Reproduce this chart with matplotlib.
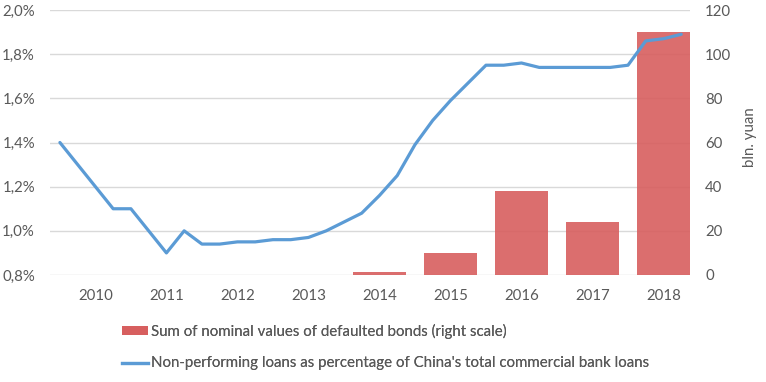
import matplotlib
matplotlib.use("Agg")
import matplotlib.pyplot as plt
from matplotlib.patches import Patch
from matplotlib.lines import Line2D
from matplotlib.ticker import FixedLocator

plt.rcParams['font.family'] = ['Lato', 'DejaVu Sans']

years = ["2010", "2011", "2012", "2013", "2014", "2015", "2016", "2017", "2018"]
defaulted_bonds = [0, 0, 0, 0, 1.2, 10, 38, 24, 110]
npl_ratio = [1.40, 1.30, 1.20, 1.10,
             1.10, 1.00, 0.90, 1.00,
             0.94, 0.94, 0.95, 0.95,
             0.96, 0.96, 0.97, 1.00,
             1.04, 1.08, 1.16, 1.25,
             1.39, 1.50, 1.59, 1.67,
             1.75, 1.75, 1.76, 1.74,
             1.74, 1.74, 1.74, 1.74,
             1.75, 1.86, 1.87, 1.89]
left_ticks = [0.8, 1.0, 1.2, 1.4, 1.6, 1.8, 2.0]
right_ticks = [0, 20, 40, 60, 80, 100, 120]
bar_label = "Sum of nominal values of defaulted bonds (right scale)"
line_label = "Non-performing loans as percentage of China's total commercial bank loans"

TXT = "#595959"
BAR = (215/255, 94/255, 94/255)
LINE = "#5B9BD5"
GRID = "#D9D9D9"
W, H = 766, 382
FS = 10.8

fig = plt.figure(figsize=(W/100, H/100), dpi=100)
ax1 = fig.add_axes([50/W, 1-275/H, (690-50)/W, (275-10)/H])
ax2 = ax1.twinx()

xs = list(range(len(years)))
ax2.bar(xs, defaulted_bonds, width=0.742, color=BAR, alpha=0.9, zorder=2)
ax2.set_ylim(0, 120)
ax2.yaxis.set_major_locator(FixedLocator(right_ticks))
ax2.set_yticklabels([str(t) for t in right_ticks])
for v in right_ticks:
    ax2.axhline(v, color=GRID, lw=1.0, zorder=1)

qx = [-0.5 + 0.25*i for i in range(len(npl_ratio))]
ax1.plot(qx, npl_ratio, color=LINE, lw=2.3, solid_capstyle='round', zorder=3)
ax1.set_ylim(0.8, 2.0)
ax1.yaxis.set_major_locator(FixedLocator(left_ticks))
ax1.set_yticklabels([f"{t:.1f}%".replace('.', ',') for t in left_ticks])

ax1.set_zorder(ax2.get_zorder()+1)
ax1.patch.set_visible(False)

ax1.set_xlim(-0.5 - 9.9/71, 8 + 26.5/71)
ax1.set_xticks(xs)
ax1.set_xticklabels(years)

for a in (ax1, ax2):
    for s in a.spines.values():
        s.set_visible(False)
    a.tick_params(length=0, labelsize=FS, labelcolor=TXT)
ax1.tick_params(axis='y', pad=10.8)
ax2.tick_params(axis='y', pad=10.8)
ax1.tick_params(axis='x', pad=10)

fig.text(750/W, 1-137/H, "bln. yuan", rotation=90, ha='center', va='center',
         color=TXT, fontsize=FS)

fs_px = FS*100/72
h1 = [Patch(facecolor=BAR, alpha=0.9, edgecolor='none')]
h2 = [Line2D([0], [0], color=LINE, lw=2.3)]
for handles, label, y in ((h1, bar_label, 331.5), (h2, line_label, 363.5)):
    leg = fig.legend(handles, [label], loc='center left',
                     bbox_to_anchor=(122/W, 1-y/H), frameon=False,
                     borderpad=0, borderaxespad=0, handlelength=26/fs_px,
                     handleheight=0.55, handletextpad=3/fs_px,
                     fontsize=FS, labelcolor=TXT)
    fig.add_artist(leg)

fig.savefig("out.png", dpi=100)
